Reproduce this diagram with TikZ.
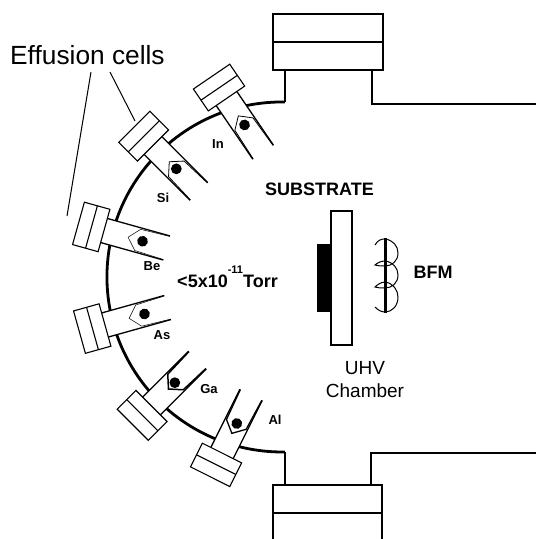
\documentclass[tikz,border=0pt]{standalone}
\usepackage{fontspec}
\setmainfont{Liberation Sans}
\usetikzlibrary{positioning}
\tikzset{
  chamberwall/.style={line width=1.8pt},
  portbox/.style={line width=1.6pt,fill=white},
  cellbox/.style={line width=1.1pt,fill=white},
  cellwall/.style={line width=1.3pt},
  tag/.style={font=\fontsize{13}{15}\selectfont\bfseries,inner sep=0pt},
  biglabel/.style={font=\fontsize{18}{23}\selectfont\bfseries,inner sep=0pt,align=center},
  leader/.style={line width=1pt}
}
\begin{document}
\begin{tikzpicture}[x=1pt,y=-1pt]
  \useasboundingbox (0,0) rectangle (536,539);
  % chamber outline
  \draw[chamberwall,line width=2.8pt] (285,102) arc[start angle=89,end angle=271,radius=175pt];
  \draw[chamberwall] (285,70) -- (285,102);
  \draw[chamberwall] (372,70) -- (372,104) -- (536,104);
  \draw[chamberwall] (285,485) -- (285,452);
  \draw[chamberwall] (371,485) -- (371,453) -- (536,453);
  % ports
  \draw[portbox] (273,14) rectangle (383,70);
  \draw[portbox] (273,42) -- (383,42);
  \draw[portbox] (273,539) -- (273,485) -- (382,485) -- (382,539);
  \draw[portbox] (273,513) -- (382,513);
  % effusion cells: x, y, angle, crucible back, dot, crucible line
  \foreach \cx/\cy/\ang/\back/\spot/\lw in {226.5/98.5/-55.7/21/32/0.8,153/145.5/-45/23/33/0.8,
    104/230.5/-15.6/25/40/0.5,105/325/15.6/25/41/0.5,151.5/406/45/24/33/1.5,222/453/63.4/22/33/1.3}{
    \begin{scope}[shift={(\cx,\cy)},rotate=\ang]
      \fill[white] (0,-12.5) rectangle (65,12.5);
      \draw[cellwall] (0,-12.5) -- (65,-12.5);
      \draw[cellwall] (0,12.5) -- (65,12.5);
      \draw[line width=\lw pt] (65,-12) -- (\back+10,-11) -- (\back,0) -- (\back+10,11) -- (65,12);
      \fill (\spot,0) circle[radius=5.4pt];
      \draw[cellbox] (-26.5,-22) rectangle (0,22);
      \draw[cellbox] (-13,-22) -- (-13,22);
    \end{scope}
  }
  % substrate
  \draw[line width=1.3pt] (331,211) rectangle (352,345);
  \fill (317,244) rectangle (331,312);
  % BFM
  \draw[line width=1pt] (375,245) .. controls (378,240) and (381,239) .. (385,239)
    .. controls (393,240) and (398,246) .. (398,253) .. controls (398,261) and (392,266) .. (385,266)
    .. controls (381,266) and (378,266) .. (375,265) .. controls (377,263) and (381,261) .. (385,261)
    .. controls (393,262) and (398,268) .. (398,275) .. controls (398,283) and (392,288) .. (385,288)
    .. controls (381,288) and (378,288) .. (375,287) .. controls (377,285) and (381,282) .. (385,282)
    .. controls (393,283) and (398,290) .. (398,297) .. controls (398,306) and (392,312) .. (385,312)
    .. controls (381,312) and (378,310) .. (375,307);
  \fill (383.5,238) rectangle (386.5,313);
  % labels
  \node[tag] (inlabel) at (218,144) {In};
  \node[tag] (silabel) at (163,198) {Si};
  \node[tag] (belabel) at (152,266) {Be};
  \node[tag] (aslabel) at (162,335) {As};
  \node[tag] (galabel) at (209,389) {Ga};
  \node[tag] (allabel) at (275,420) {Al};
  \node[biglabel] (substrate) at (319.5,189) {SUBSTRATE};
  \node[biglabel] (bfm) at (433,272) {BFM};
  \node[biglabel] (pressure) at (227.5,277) {<5x10\raisebox{14pt}{\fontsize{11}{13}\selectfont -11}Torr};
  \node[biglabel,font=\fontsize{19}{23}\selectfont] (uhv) at (365,379.5) {UHV\\Chamber};
  \node[anchor=base west,inner sep=0pt,font=\fontsize{26.3}{30}\selectfont] (effusion) at (10,64) {Effusion cells};
  \coordinate (leadA) at (67,216);
  \coordinate (leadB) at (135,121);
  \draw[leader] (91,72) -- (leadA);
  \draw[leader] (110,72) -- (leadB);
\end{tikzpicture}
\end{document}
